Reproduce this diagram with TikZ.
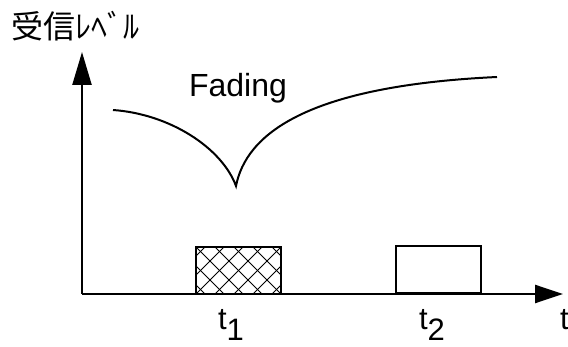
\documentclass[tikz,border=0pt]{standalone}
\usepackage{fontspec}
\setmainfont{Liberation Sans}
\newfontfamily\cjk{Noto Sans CJK JP}
\usetikzlibrary{arrows.meta}
\begin{document}
\begin{tikzpicture}[x=1pt,y=-1pt,
  axis/.style={line width=2.4pt},
  pulse/.style={draw, line width=2pt, minimum width=85pt, minimum height=47pt, inner sep=0pt},
  lbl/.style={inner sep=0pt, font=\fontsize{31}{33}\selectfont},
  hatch/.style={line width=0.9pt}]
\clip (0,0) rectangle (568,347);
\fill[white] (0,0) rectangle (568,347);
% axes
\coordinate (o) at (82,294);
\coordinate (ytip) at (82,52);
\coordinate (xtip) at (563,294);
\draw[axis,-{Triangle[length=33pt,width=19pt]}] (o) -- (ytip);
\draw[axis,-{Triangle[length=28pt,width=18pt]}] (o) -- (xtip);
% y label
\node[anchor=west, inner sep=0pt] (ylab) at (11,26) {\cjk\fontsize{32}{34}\selectfont 受信ﾚﾍﾞﾙ};
% fading curve
\coordinate (c0) at (113,110);
\coordinate (cusp) at (236,186);
\coordinate (c1) at (497,77);
\draw[line width=2pt] (c0) .. controls (170,114) and (222,148) .. (cusp)
  .. controls (246,135) and (305,86) .. (c1);
\node[lbl, font=\fontsize{32}{34}\selectfont] (fad) at (238,88) {Fading};
% pulses
\begin{scope}
\clip (196,247) rectangle (281,294);
\foreach \i in {-57,-38,...,102} {
  \draw[hatch] (196+\i,294) -- (243+\i,247);
  \draw[hatch] (196+\i,247) -- (243+\i,294);
}
\end{scope}
\node[pulse] (p1) at (238.5,270.5) {};
\node[pulse] (p2) at (438,270) {};
% labels
\node[lbl] (t1) at (231,325) {t\raisebox{-0.33em}{1}};
\node[lbl] (t2) at (432,325) {t\raisebox{-0.33em}{2}};
\node[lbl, anchor=west] (t) at (560,320) {t};
\end{tikzpicture}
\end{document}
